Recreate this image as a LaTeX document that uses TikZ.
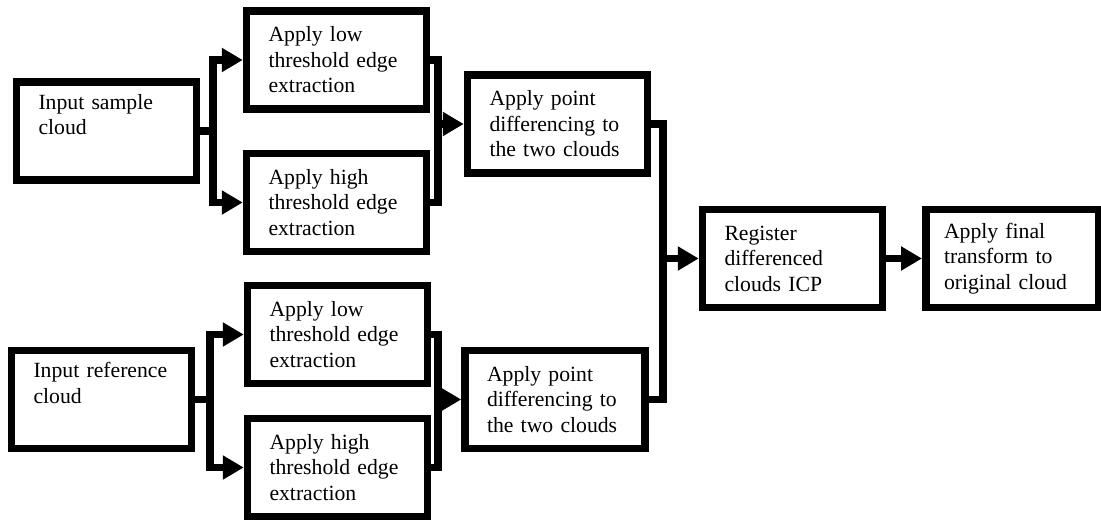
\documentclass[tikz,border=0pt]{standalone}
\usepackage{fontspec}
\setmainfont{Liberation Serif}
\usepackage{tikz}
\usetikzlibrary{arrows.meta}

\tikzset{
  stage/.style={draw, rectangle, line width=7.5pt, minimum width=180pt, minimum height=98pt,
    text width=136pt, align=left, inner sep=0pt, font=\fontsize{21.7}{25.5}\selectfont},
  link/.style={line width=7.5pt},
  feed/.style={line width=7.5pt, -{Triangle[length=21pt,width=23pt]}}
}

\begin{document}
\begin{tikzpicture}[x=1pt,y=-1pt]
    \useasboundingbox (0,0) rectangle (1101,522);
    \node[stage] (sample) at (106.5,131) {Input sample\\cloud\\ \strut};
    \node[stage] (lowA) at (336.5,60) {Apply low\\threshold edge\\extraction};
    \node[stage] (highA) at (336.5,202.5) {Apply high\\threshold edge\\extraction};
    \node[stage] (diffA) at (557.5,124) {Apply point\\differencing to\\the two clouds};
    \node[stage] (reference) at (101.5,399.5) {Input reference\\cloud\\ \strut};
    \node[stage] (lowB) at (337.5,334.5) {Apply low\\threshold edge\\extraction};
    \node[stage] (highB) at (337.5,467.5) {Apply high\\threshold edge\\extraction};
    \node[stage] (diffB) at (555,399.5) {Apply point\\differencing to\\the two clouds};
    \node[stage] (register) at (792.5,258.5) {Register\\differenced\\clouds ICP};
    \node[stage,minimum width=172.5pt] (final) at (1012,258.5) {Apply final\\transform to\\original cloud};
    \coordinate (splitA) at (213,131);
    \coordinate (joinA) at (438,124);
    \coordinate (splitB) at (210,399.5);
    \coordinate (joinB) at (438,399.5);
    \coordinate (merge) at (663,258.5);
    \draw[link] (sample) to (splitA);
    \draw[feed] (splitA) |- (lowA);
    \draw[feed] (splitA) |- (highA);
    \draw[link] (lowA) -| (joinA);
    \draw[link] (highA) -| (joinA);
    \draw[feed] (joinA) to (diffA);
    \draw[link] (reference) to (splitB);
    \draw[feed] (splitB) |- (lowB);
    \draw[feed] (splitB) |- (highB);
    \draw[link] (lowB) -| (joinB);
    \draw[link] (highB) -| (joinB);
    \draw[feed] (joinB) to (diffB);
    \draw[link] (diffA) -| (merge);
    \draw[link] (diffB) -| (merge);
    \draw[feed] (merge) to (register);
    \draw[feed] (register) to (final);
\end{tikzpicture}
\end{document}
